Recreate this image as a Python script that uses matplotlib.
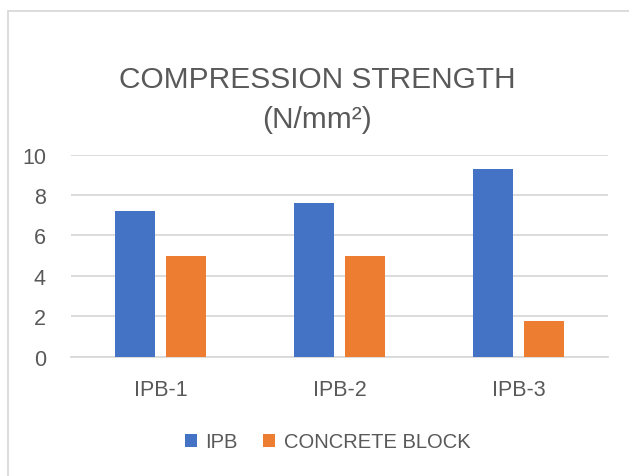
import matplotlib
matplotlib.use("Agg")
import matplotlib.pyplot as plt
import numpy as np
from matplotlib import font_manager
from matplotlib.patches import Patch, Rectangle

categorias = ['IPB-1', 'IPB-2', 'IPB-3']
ipb = [7.2, 7.6, 9.3]
bloco = [5.0, 5.0, 1.75]
series = ['IPB', 'CONCRETE BLOCK']
yticks = [0, 2, 4, 6, 8, 10]

nomes = {f.name for f in font_manager.fontManager.ttflist}
fonte = 'Liberation Sans Narrow' if 'Liberation Sans Narrow' in nomes else 'Liberation Sans'
plt.rcParams['font.family'] = [fonte, 'DejaVu Sans']
estreita = fonte.endswith('Narrow')

AZUL, LARANJA, CINZA, GRADE = '#4472C4', '#ED7D31', '#595959', '#D9D9D9'

# tamanhos menores quando nao ha fonte estreita, para manter a largura dos textos
tam_titulo = 24 if estreita else 21.5
tam_eixo = 16.5 if estreita else 15.5
tam_leg = 16.5 if estreita else 14.5

W, H = 629, 477
fig = plt.figure(figsize=(W / 100, H / 100), dpi=100)
ax = fig.add_axes([71 / W, 1 - 357.5 / H, (608 - 71) / W, (357.5 - 155.7) / H])

x = np.arange(len(categorias))
largura = 0.223
ax.bar(x - 0.14, ipb, largura, color=AZUL, zorder=3)
ax.bar(x + 0.14, bloco, largura, color=LARANJA, zorder=3)

ax.set_xlim(-0.5, 2.5)
ax.set_ylim(0, 10)
ax.set_yticks(yticks)
ax.set_xticks(x)
ax.set_xticklabels(categorias)
ax.tick_params(axis='both', length=0, labelsize=tam_eixo, labelcolor=CINZA)
ax.tick_params(axis='y', pad=18)
ax.tick_params(axis='x', pad=16)
ax.grid(axis='y', color=GRADE, linewidth=1.3, zorder=0)
for lado in ['top', 'right', 'left']:
    ax.spines[lado].set_visible(False)
ax.spines['bottom'].set_color(GRADE)
ax.spines['bottom'].set_linewidth(1.3)

fig.text(317 / W, 1 - 80 / H, 'COMPRESSION STRENGTH', ha='center', va='center',
         fontsize=tam_titulo, color=CINZA)
fig.text(317 / W, 1 - 120 / H, '(N/mm²)', ha='center', va='center',
         fontsize=tam_titulo, color=CINZA)

alcas = [Patch(facecolor=AZUL, label=series[0]), Patch(facecolor=LARANJA, label=series[1])]
fig.legend(handles=alcas, loc='center', bbox_to_anchor=(327.5 / W, 1 - 443 / H), ncol=2,
           frameon=False, fontsize=tam_leg, labelcolor=CINZA, handlelength=0.62,
           handleheight=0.62, handletextpad=0.4, columnspacing=1.25)

fig.add_artist(Rectangle((7.5 / W, -0.1), 1.2, 1 - 12 / H + 0.1, transform=fig.transFigure,
                         fill=False, edgecolor=GRADE, linewidth=1.3))

plt.savefig('out.png', dpi=100)
plt.close()
